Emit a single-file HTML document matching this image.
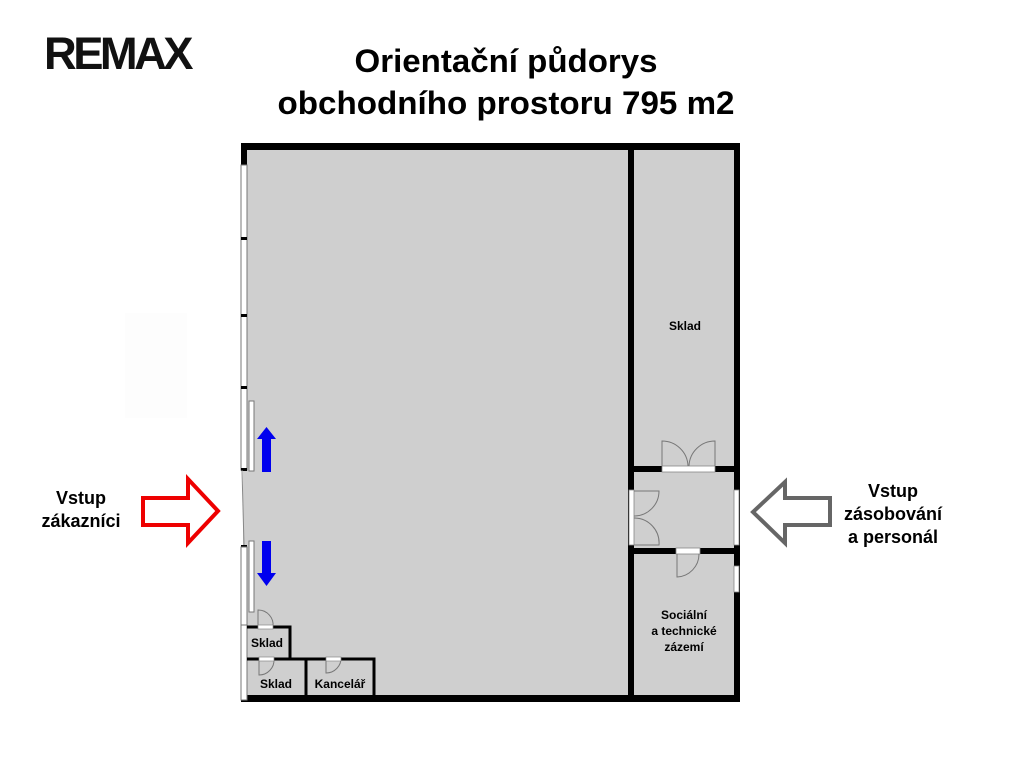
<!DOCTYPE html>
<html><head><meta charset="utf-8"><style>
body{margin:0;background:#fff;width:1024px;height:759px;overflow:hidden}
svg{display:block;font-family:"Liberation Sans",sans-serif;font-weight:bold}
</style></head><body>
<svg width="1024" height="759" viewBox="0 0 1024 759">
<text x="44" y="69" font-size="45" fill="#111" letter-spacing="-3.5" textLength="146" lengthAdjust="spacingAndGlyphs" font-family="Liberation Sans" font-weight="bold">REMAX</text>
<text x="506" y="72" font-size="32" text-anchor="middle" fill="#000" textLength="303" lengthAdjust="spacingAndGlyphs">Orientační půdorys</text>
<text x="506" y="114" font-size="32" text-anchor="middle" fill="#000" textLength="457" lengthAdjust="spacingAndGlyphs">obchodního prostoru 795 m2</text>
<rect x="125" y="313" width="62" height="105" fill="#fdfdfd"/>
<rect x="243" y="146" width="495" height="552" fill="#cfcfcf"/>
<rect x="241" y="143" width="499" height="7" fill="#000"/>
<rect x="241" y="695" width="499" height="7" fill="#000"/>
<rect x="734" y="143" width="6" height="559" fill="#000"/>
<rect x="241" y="143" width="6" height="22" fill="#000"/>
<rect x="241" y="165" width="6" height="305" fill="#fff" stroke="#777" stroke-width="1"/>
<rect x="241" y="237" width="6" height="3" fill="#000"/>
<rect x="241" y="314" width="6" height="3" fill="#000"/>
<rect x="241" y="386" width="6" height="3" fill="#000"/>
<rect x="241" y="468" width="6" height="3" fill="#000"/>
<line x1="242" y1="470" x2="244" y2="545" stroke="#888" stroke-width="1"/>
<rect x="241" y="545" width="6" height="3" fill="#000"/>
<rect x="241" y="547" width="6" height="80" fill="#fff" stroke="#777" stroke-width="1"/>
<rect x="241" y="625" width="6" height="75" fill="#fff" stroke="#777" stroke-width="1"/>
<rect x="249" y="401" width="5" height="70" fill="#fff" stroke="#777" stroke-width="1"/>
<rect x="249" y="541" width="5" height="71" fill="#fff" stroke="#777" stroke-width="1"/>
<polygon points="262,472 271,472 271,439 276,439 266.5,427 257,439 262,439" fill="#0000ee"/>
<polygon points="262,541 271,541 271,573 276,573 266.5,586 257,573 262,573" fill="#0000ee"/>
<rect x="628" y="146" width="6" height="552" fill="#000"/>
<rect x="628" y="466" width="110" height="6" fill="#000"/>
<rect x="662" y="466" width="53" height="6" fill="#fff" stroke="#888" stroke-width="0.8"/>
<rect x="629" y="490" width="5" height="55" fill="#fff" stroke="#888" stroke-width="0.8"/>
<rect x="734" y="490" width="5" height="55" fill="#fff" stroke="#888" stroke-width="0.8"/>
<rect x="628" y="548" width="110" height="6" fill="#000"/>
<rect x="676" y="548" width="24" height="6" fill="#fff" stroke="#888" stroke-width="0.8"/>
<rect x="734" y="566" width="5" height="26" fill="#fff" stroke="#888" stroke-width="0.8"/>
<g fill="none" stroke="#777" stroke-width="1">
<path d="M662,466 V441 A26,26 0 0 1 688,466"/>
<path d="M715,466 V441 A26,26 0 0 0 689,466"/>
<path d="M634,491 H659 A25,25 0 0 1 634,516"/>
<path d="M634,545 H659 A25,25 0 0 0 634,518"/>
<path d="M677,554 V577 A23,23 0 0 0 699,554"/>
<path d="M258,627 V610 A15,15 0 0 1 273,627"/>
<path d="M259,659 V675 A15,15 0 0 0 274,659"/>
<path d="M326,657 V673 A15,15 0 0 0 341,657"/>
</g>
<g fill="none" stroke="#000" stroke-width="3">
<path d="M247,627 H290 V659"/>
<path d="M247,659 H306 V697"/>
<path d="M306,659 H374 V697"/>
</g>
<rect x="258" y="625" width="15" height="4" fill="#fff" stroke="#888" stroke-width="0.7"/>
<rect x="259" y="657" width="15" height="4" fill="#fff" stroke="#888" stroke-width="0.7"/>
<rect x="326" y="657" width="15" height="4" fill="#fff" stroke="#888" stroke-width="0.7"/>
<g font-size="12" fill="#000" text-anchor="middle">
<text x="267" y="647">Sklad</text>
<text x="276" y="688">Sklad</text>
<text x="340" y="688">Kancelář</text>
<text x="685" y="330">Sklad</text>
<text x="684" y="619">Sociální</text>
<text x="684" y="635">a technické</text>
<text x="684" y="651">zázemí</text>
</g>
<polygon points="143,498 188,498 188,479 218,511 188,543 188,525 143,525" fill="#fff" stroke="#ee0000" stroke-width="4"/>
<polygon points="830,498 785,498 785,482 753,512 785,543 785,525 830,525" fill="#fff" stroke="#666" stroke-width="4"/>
<g font-size="18" fill="#000" text-anchor="middle">
<text x="81" y="504">Vstup</text>
<text x="81" y="527">zákazníci</text>
<text x="893" y="497">Vstup</text>
<text x="893" y="520">zásobování</text>
<text x="893" y="543">a personál</text>
</g>
</svg>
</body></html>
